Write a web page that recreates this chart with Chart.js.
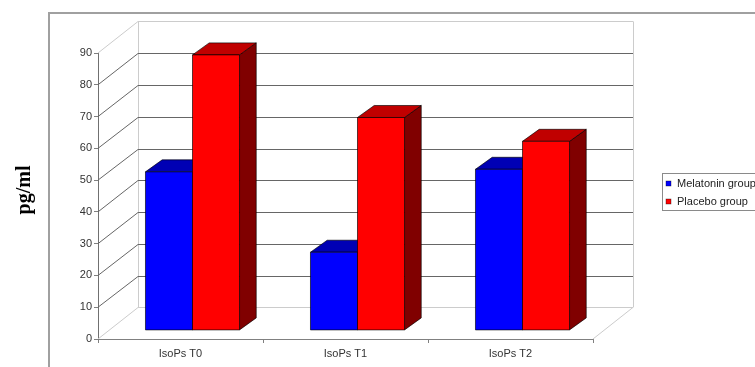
<!DOCTYPE html>
<html><head><meta charset="utf-8">
<script src="https://cdn.jsdelivr.net/npm/chart.js@4"></script>
<style>html,body{margin:0;padding:0;background:#fff;}#wrap{width:755px;height:367px;position:relative;}</style>
</head><body><div id="wrap"><canvas id="c" width="755" height="367"></canvas></div>
<script>
// ---- data ----
const categories = ['IsoPs T0', 'IsoPs T1', 'IsoPs T2'];
const melatonin = [49.9, 24.6, 50.7];
const placebo = [86.7, 67.0, 59.5];
const seriesNames = ['Melatonin group', 'Placebo group'];
const yTicks = [0, 10, 20, 30, 40, 50, 60, 70, 80, 90];
const yTitle = 'pg/ml';

const FONT = '"Liberation Sans", Arial, sans-serif';

// 3D geometry (pixels)
const WALL_DX = 40, WALL_DY = -31.6;   // depth of floor / walls
const BAR_OX = 12, BAR_OY = -8.6;      // bar front face offset into depth
const BAR_DX = 16.7, BAR_DY = -12;     // bar depth

function line(ctx, x1, y1, x2, y2) { ctx.beginPath(); ctx.moveTo(x1, y1); ctx.lineTo(x2, y2); ctx.stroke(); }

const threeD = {
  id: 'threeD',
  beforeDraw(chart) {
    const ctx = chart.ctx;
    ctx.save();
    ctx.fillStyle = '#fff';
    ctx.fillRect(0, 0, chart.width, chart.height);
    ctx.restore();
  },
  beforeDatasetsDraw(chart) {
    const { ctx, chartArea: a, scales: { y } } = chart;
    ctx.save();
    ctx.lineWidth = 1;
    const yTop = y.getPixelForValue(y.max), y0 = y.getPixelForValue(y.min);
    // light edges
    ctx.strokeStyle = '#cccccc';
    line(ctx, Math.round(a.left + WALL_DX) + 0.5, yTop + WALL_DY, Math.round(a.left + WALL_DX) + 0.5, y0 + WALL_DY);
    line(ctx, Math.round(a.right + WALL_DX) + 0.5, yTop + WALL_DY, Math.round(a.right + WALL_DX) + 0.5, y0 + WALL_DY);
    line(ctx, a.right, y0, a.right + WALL_DX, y0 + WALL_DY);
    yTicks.forEach(v => {
      const yf = y.getPixelForValue(v);
      const light = (v === y.min || v === y.max);
      ctx.strokeStyle = light ? '#cccccc' : '#666666';
      const yb = Math.round(yf + WALL_DY) + 0.5;
      line(ctx, a.left, yf, a.left + WALL_DX, yb);
      line(ctx, a.left + WALL_DX, yb, a.right + WALL_DX, yb);
    });
    ctx.restore();
  },
  afterDatasetsDraw(chart) {
    const ctx = chart.ctx;
    ctx.save();
    ctx.lineWidth = 0.8;
    ctx.strokeStyle = 'rgba(0,0,0,0.8)';
    ctx.lineJoin = 'round';
    const n = chart.data.labels.length;
    for (let i = 0; i < n; i++) {
      chart.data.datasets.forEach((ds, d) => {
        const el = chart.getDatasetMeta(d).data[i];
        const w = el.width;
        const x0 = el.x - w / 2 + BAR_OX, x1 = el.x + w / 2 + BAR_OX;
        const yt = el.y + BAR_OY, yb = el.base + BAR_OY;
        // side
        ctx.fillStyle = ds.sideColor;
        ctx.beginPath();
        ctx.moveTo(x1, yt); ctx.lineTo(x1 + BAR_DX, yt + BAR_DY); ctx.lineTo(x1 + BAR_DX, yb + BAR_DY); ctx.lineTo(x1, yb); ctx.closePath();
        ctx.fill(); ctx.stroke();
        // top
        ctx.fillStyle = ds.topColor;
        ctx.beginPath();
        ctx.moveTo(x0, yt); ctx.lineTo(x1, yt); ctx.lineTo(x1 + BAR_DX, yt + BAR_DY); ctx.lineTo(x0 + BAR_DX, yt + BAR_DY); ctx.closePath();
        ctx.fill(); ctx.stroke();
        // front
        ctx.fillStyle = ds.faceColor;
        ctx.beginPath();
        ctx.rect(x0, yt, x1 - x0, yb - yt);
        ctx.fill(); ctx.stroke();
      });
    }
    ctx.restore();
  },
  afterDraw(chart) {
    const ctx = chart.ctx;
    ctx.save();
    // outer frame
    ctx.strokeStyle = '#a0a0a0';
    ctx.lineWidth = 2;
    ctx.beginPath(); ctx.moveTo(49, 367); ctx.lineTo(49, 13); ctx.lineTo(756, 13); ctx.stroke();
    // y title
    ctx.save();
    ctx.translate(25, 190);
    ctx.rotate(-Math.PI / 2);
    ctx.fillStyle = '#000';
    ctx.font = 'bold 20px "Liberation Serif", "Times New Roman", serif';
    ctx.textAlign = 'center';
    ctx.textBaseline = 'middle';
    ctx.fillText(yTitle, 0, 0);
    ctx.restore();
    // legend
    ctx.lineWidth = 1;
    ctx.strokeStyle = '#8a8a8a';
    ctx.strokeRect(662.5, 173.5, 110, 37);
    ctx.font = '11px ' + FONT;
    ctx.textBaseline = 'middle';
    ctx.textAlign = 'left';
    chart.data.datasets.forEach((ds, d) => {
      const cy = 183.5 + d * 18;
      ctx.fillStyle = ds.faceColor;
      ctx.fillRect(666, cy - 2.5, 5, 5);
      ctx.strokeStyle = 'rgba(0,0,0,0.6)';
      ctx.lineWidth = 0.6;
      ctx.strokeRect(666, cy - 2.5, 5, 5);
      ctx.fillStyle = '#222';
      ctx.fillText(ds.label, 677, cy);
    });
    ctx.restore();
  }
};

new Chart(document.getElementById('c'), {
  type: 'bar',
  data: {
    labels: categories,
    datasets: [
      { label: seriesNames[0], data: melatonin, backgroundColor: 'rgba(0,0,0,0)', borderWidth: 0,
        faceColor: '#0000ff', topColor: '#0000b4', sideColor: '#000080',
        categoryPercentage: 0.57, barPercentage: 1.0 },
      { label: seriesNames[1], data: placebo, backgroundColor: 'rgba(0,0,0,0)', borderWidth: 0,
        faceColor: '#ff0000', topColor: '#c00000', sideColor: '#800000',
        categoryPercentage: 0.57, barPercentage: 1.0 }
    ]
  },
  options: {
    responsive: false,
    devicePixelRatio: 1,
    animation: false,
    events: [],
    layout: { padding: { left: 0, right: 162, top: 53, bottom: 0 } },
    plugins: { legend: { display: false }, tooltip: { enabled: false }, title: { display: false } },
    scales: {
      x: {
        type: 'category',
        grid: { drawOnChartArea: false, drawTicks: true, tickLength: 4, color: '#808080', offset: true },
        border: { display: true, color: '#808080' },
        ticks: { color: '#333', font: { family: FONT, size: 11 }, padding: 4, maxRotation: 0 },
        afterFit(s) { s.height = 28; }
      },
      y: {
        min: 0, max: 90,
        afterBuildTicks(s) { s.ticks = yTicks.map(v => ({ value: v })); },
        grid: { drawOnChartArea: false, drawTicks: true, tickLength: 4, color: '#808080' },
        border: { display: true, color: '#707070' },
        ticks: { color: '#333', font: { family: FONT, size: 11 }, padding: 2 },
        afterFit(s) { s.width = 98; }
      }
    }
  },
  plugins: [threeD]
});
</script>
</body></html>
